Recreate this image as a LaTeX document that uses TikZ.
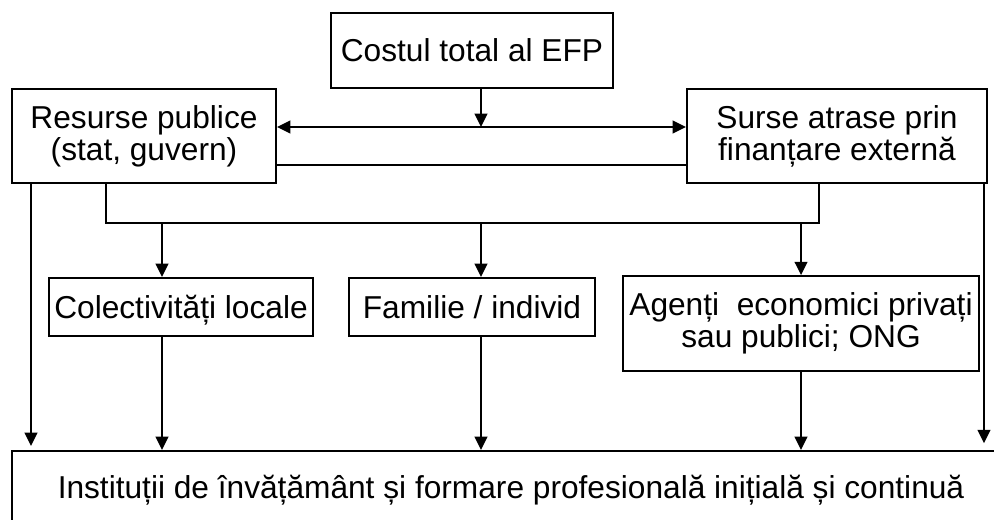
\documentclass[tikz,border=0pt]{standalone}
\usepackage{fontspec}
\setmainfont{Liberation Sans}
\usetikzlibrary{arrows.meta}

\begin{document}
\begin{tikzpicture}[x=0.75pt,y=-0.75pt,line width=1.6pt,
    box/.style={rectangle,draw,align=center,inner sep=0pt,
      font=\fontsize{23.75pt}{24pt}\selectfont},
    oneline/.style={box,text height=17pt,text depth=0pt},
    arr/.style={-{Triangle[length=10pt,width=9.5pt]}},
    darr/.style={{Triangle[length=10pt,width=9.5pt]}-{Triangle[length=10pt,width=9.5pt]}}]
    \clip (0,0) rectangle (994,520);
    \fill[white] (0,0) rectangle (994,520);
    \node (cost) at (472,50.5) [oneline,minimum width=211.5pt,minimum height=56.25pt] {Costul total al EFP};
    \node (pub) at (144,136) [box,minimum width=198pt,minimum height=70.5pt] {Resurse publice\\(stat, guvern)};
    \node (ext) at (837,136) [box,minimum width=225pt,minimum height=70.5pt] {Surse atrase prin\\finanțare externă};
    \node (col) at (181,307) [oneline,minimum width=198pt,minimum height=43.5pt] {Colectivități locale};
    \node (fam) at (472,307) [oneline,minimum width=184.5pt,minimum height=43.5pt] {Familie / individ};
    \node (ag) at (801,323.5) [box,minimum width=267pt,minimum height=71pt] {Agenți~ economici privați\\sau publici; ONG};
    \node (inst) at (511,487) [oneline,minimum width=748.5pt,minimum height=54pt] {Instituții de învățământ și formare profesională inițială și continuă};
    % points on the connectors
    \coordinate (mid) at (481,127);
    \coordinate (low) at (481,165);
    \coordinate (busl) at (106,223);
    \coordinate (busr) at (819,223);
    \coordinate (b1) at (162,223);
    \coordinate (b2) at (481,223);
    \coordinate (b3) at (801,223);
    \coordinate (sl) at (31,0);
    \coordinate (sr) at (984,0);
    \draw[arr] (cost.south -| mid) -- (mid);
    \draw[darr] (pub.east |- mid) -- (ext.west |- mid);
    \draw (pub.east |- low) -- (ext.west |- low);
    \draw (pub.south -| busl) -- (busl) -- (busr) -- (ext.south -| busr);
    \draw[arr] (b1) -- (b1 |- col.north);
    \draw[arr] (b2) -- (b2 |- fam.north);
    \draw[arr] (b3) -- (b3 |- ag.north);
    \draw[arr] (b1 |- col.south) -- (b1 |- inst.north);
    \draw[arr] (b2 |- fam.south) -- (b2 |- inst.north);
    \draw[arr] (b3 |- ag.south) -- (b3 |- inst.north);
    \draw[arr,shorten >=3pt] (pub.south -| sl) -- (sl |- inst.north);
    \draw[arr,shorten >=5pt] (ext.south -| sr) -- (sr |- inst.north);
  \end{tikzpicture}
\end{document}
